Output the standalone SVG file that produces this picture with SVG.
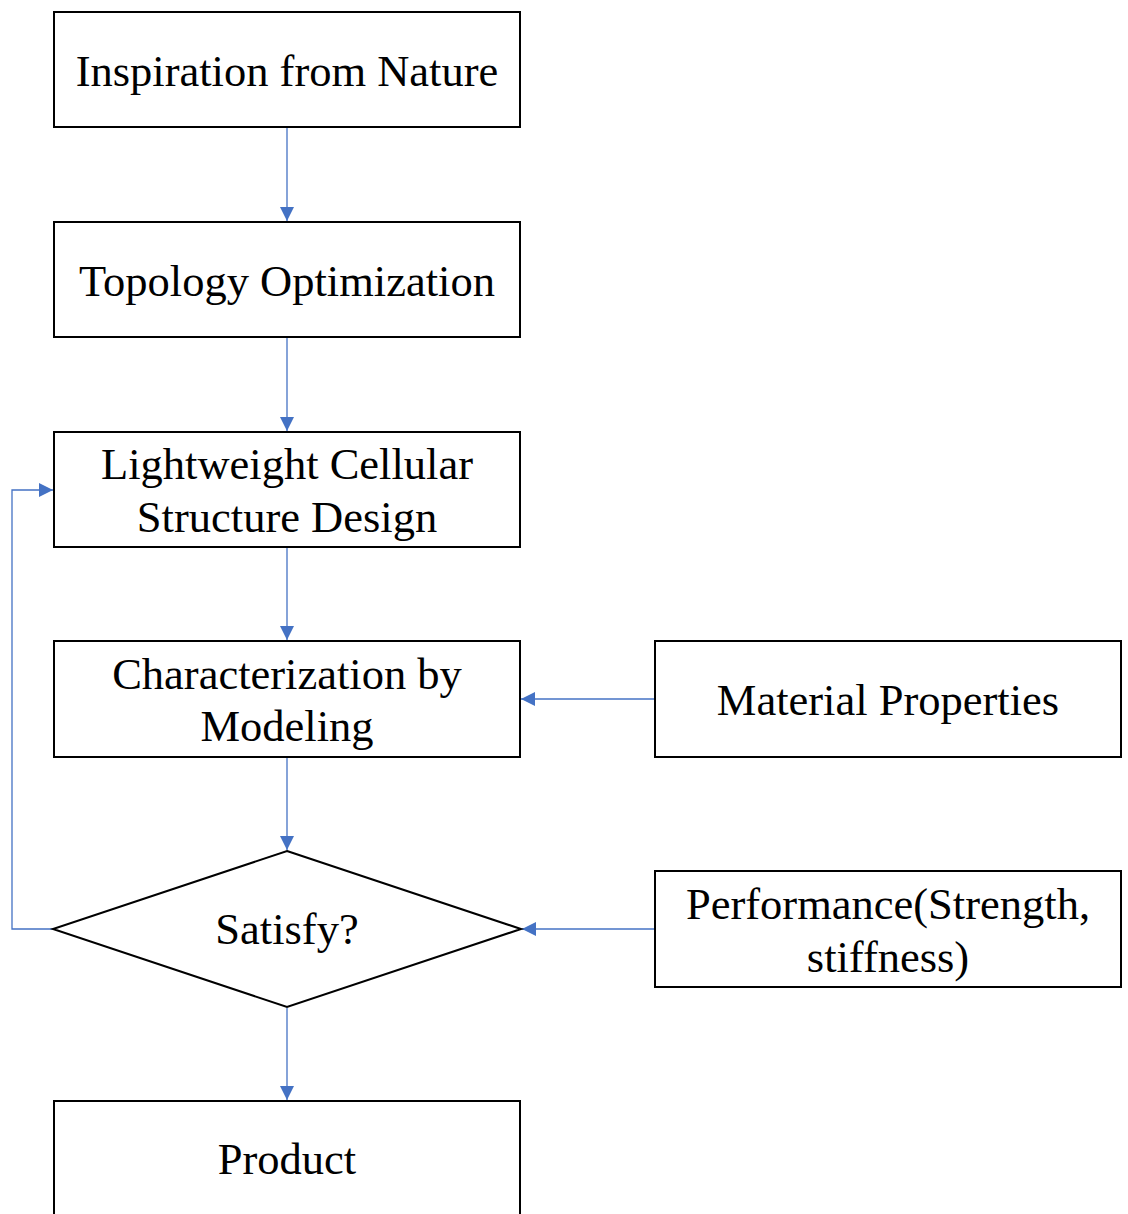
<svg xmlns="http://www.w3.org/2000/svg" width="1128" height="1214" viewBox="0 0 1128 1214">
<style>
.box{fill:#fff;stroke:#000;stroke-width:2}
.t{font-family:"Liberation Serif","Times New Roman",serif;font-size:44.5px;fill:#000;text-anchor:middle}
.c{fill:none;stroke:#4472C4;stroke-width:1.3}
</style>
<defs>
<marker id="ah" viewBox="0 0 10 10" refX="10" refY="5" markerWidth="14" markerHeight="14" markerUnits="userSpaceOnUse" orient="auto">
<path d="M0,0 L10,5 L0,10 z" fill="#4472C4"/>
</marker>
</defs>
<rect width="1128" height="1214" fill="#fff"/>
<g id="connectors">
<line class="c" x1="287" y1="128" x2="287" y2="221" marker-end="url(#ah)"/>
<line class="c" x1="287" y1="338" x2="287" y2="431" marker-end="url(#ah)"/>
<line class="c" x1="287" y1="548" x2="287" y2="640" marker-end="url(#ah)"/>
<line class="c" x1="287" y1="758" x2="287" y2="850" marker-end="url(#ah)"/>
<line class="c" x1="287" y1="1008" x2="287" y2="1100" marker-end="url(#ah)"/>
<line class="c" x1="655" y1="699" x2="521" y2="699" marker-end="url(#ah)"/>
<line class="c" x1="655" y1="929" x2="522" y2="929" marker-end="url(#ah)"/>
<polyline class="c" points="53,929 12,929 12,490 53,490" marker-end="url(#ah)"/>
</g>
<g id="n1"><rect class="box" x="54" y="12" width="466" height="115"/><text class="t" x="287" y="86">Inspiration from Nature</text></g>
<g id="n2"><rect class="box" x="54" y="222" width="466" height="115"/><text class="t" x="287" y="296">Topology Optimization</text></g>
<g id="n3"><rect class="box" x="54" y="432" width="466" height="115"/><text class="t" x="287" y="479">Lightweight Cellular</text><text class="t" x="287" y="532">Structure Design</text></g>
<g id="n4"><rect class="box" x="54" y="641" width="466" height="116"/><text class="t" x="287" y="689">Characterization by</text><text class="t" x="287" y="741">Modeling</text></g>
<g id="n5"><rect class="box" x="655" y="641" width="466" height="116"/><text class="t" x="888" y="715">Material Properties</text></g>
<g id="n6"><polygon class="box" points="287,851 521,929 287,1007 53,929"/><text class="t" x="287" y="944">Satisfy?</text></g>
<g id="n7"><rect class="box" x="655" y="871" width="466" height="116"/><text class="t" x="888" y="919">Performance(Strength,</text><text class="t" x="888" y="972">stiffness)</text></g>
<g id="n8"><rect class="box" x="54" y="1101" width="466" height="130"/><text class="t" x="287" y="1174">Product</text></g>
</svg>
